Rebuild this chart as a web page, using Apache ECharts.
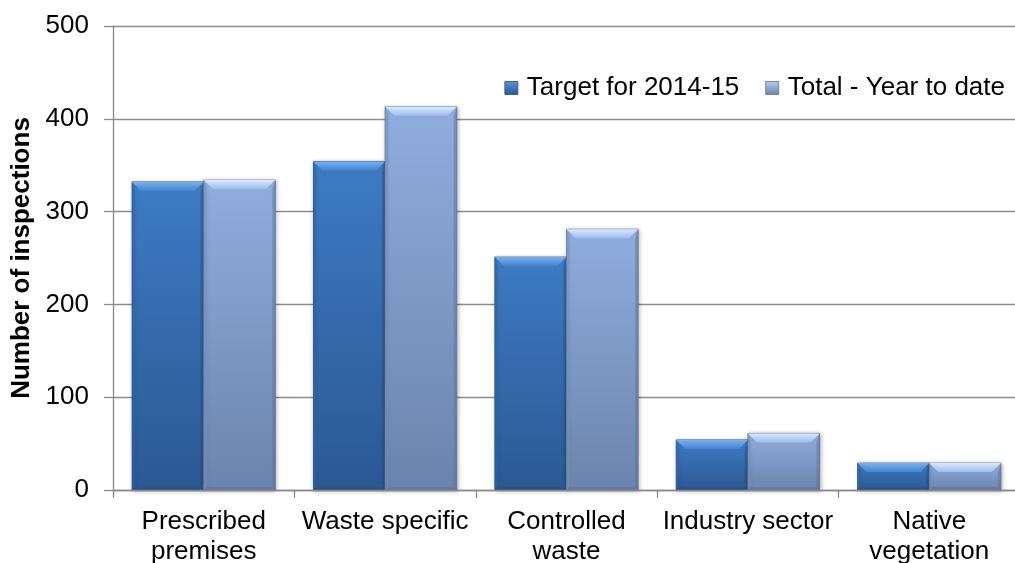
<!DOCTYPE html>
<html>
<head>
<meta charset="utf-8">
<title>Inspections by category</title>
<script src="https://cdn.jsdelivr.net/npm/echarts@6/dist/echarts.min.js"></script>
<style>
  html, body { margin: 0; padding: 0; background: #ffffff; }
  #chart { width: 1015px; height: 563px; }
</style>
</head>
<body>
<div id="chart"></div>
<script>
// Inspection categories and counts
const categories = ['Prescribed\npremises', 'Waste specific', 'Controlled\nwaste', 'Industry sector', 'Native\nvegetation'];
const seriesNames = ['Target for 2014-15', 'Total - Year to date'];
const targetValues = [332, 354, 251, 54, 29];
const totalValues = [334, 413, 281, 61, 29];
const yTicks = [0, 100, 200, 300, 400, 500];

const FONT = '"Liberation Sans", Arial, sans-serif';
const FS = 26;

// Bevelled bar palettes: body top/bottom, top bevel light/dark, side tone, edge
const palettes = [
  { top: '#3d7bc4', bottom: '#2b5893', bevelA: '#7ab0ec', bevelB: '#4285d0', side: '#2f62a3', edge: '#28507f' },
  { top: '#8fadde', bottom: '#6b84ad', bevelA: '#dbe9fd', bevelB: '#9dbcec', side: '#7891bb', edge: '#5f7394' }
];

function vGrad(a, b) {
  return new echarts.graphic.LinearGradient(0, 0, 0, 1, [
    { offset: 0, color: a }, { offset: 1, color: b }
  ]);
}

function makeRenderer(seriesIndex) {
  const pal = palettes[seriesIndex];
  return function (params, api) {
    const idx = api.value(0);
    const val = api.value(1);
    const topPt = api.coord([idx, val]);
    const basePt = api.coord([idx, 0]);
    const band = api.size([1, 0])[0];
    const barW = band * 0.395;
    const x0 = topPt[0] - barW + seriesIndex * barW;
    const x1 = x0 + barW;
    const yT = topPt[1];
    const yB = basePt[1];
    const h = yB - yT;
    const b = Math.min(9, h / 2);
    const s = 3;
    return {
      type: 'group',
      children: [
        {
          type: 'rect',
          shape: { x: x0, y: yT, width: barW, height: h },
          style: {
            fill: vGrad(pal.top, pal.bottom),
            stroke: pal.edge, lineWidth: 0.8,
            shadowBlur: 4, shadowColor: 'rgba(0,0,0,0.28)', shadowOffsetX: 1, shadowOffsetY: 1
          }
        },
        {
          // left side bevel
          type: 'polygon',
          shape: { points: [[x0, yT], [x0 + s, yT + b], [x0 + s, yB - s], [x0, yB]] },
          style: { fill: pal.side, opacity: 0.55 }
        },
        {
          // right side bevel
          type: 'polygon',
          shape: { points: [[x1, yT], [x1 - s, yT + b], [x1 - s, yB - s], [x1, yB]] },
          style: { fill: pal.edge, opacity: 0.45 }
        },
        {
          // bottom bevel
          type: 'polygon',
          shape: { points: [[x0, yB], [x0 + s, yB - s], [x1 - s, yB - s], [x1, yB]] },
          style: { fill: pal.edge, opacity: 0.4 }
        },
        {
          // top bevel
          type: 'polygon',
          shape: { points: [[x0, yT], [x1, yT], [x1 - b, yT + b], [x0 + b, yT + b]] },
          style: { fill: vGrad(pal.bevelA, pal.bevelB) }
        }
      ]
    };
  };
}

const chart = echarts.init(document.getElementById('chart'), null, { renderer: 'canvas' });

chart.setOption({
  animation: false,
  backgroundColor: '#ffffff',
  grid: { left: 113, top: 26, width: 907, height: 464, containLabel: false, outerBoundsMode: 'none' },
  legend: {
    right: 5,
    top: 70,
    icon: 'rect',
    itemWidth: 13,
    itemHeight: 13,
    itemGap: 26,
    textStyle: { fontFamily: FONT, fontSize: FS, color: '#000000', padding: [0, 0, 0, 4] },
    data: [
      { name: seriesNames[0], itemStyle: { color: vGrad('#5a95d8', '#2b5893'), borderColor: '#28507f', borderWidth: 0.8 } },
      { name: seriesNames[1], itemStyle: { color: vGrad('#b6cdf2', '#6b84ad'), borderColor: '#5f7394', borderWidth: 0.8 } }
    ]
  },
  xAxis: {
    type: 'category',
    data: categories,
    boundaryGap: true,
    axisLine: { show: true, lineStyle: { color: '#8a8a8a', width: 1.3 } },
    axisTick: { show: true, alignWithLabel: false, interval: 0, length: 8, lineStyle: { color: '#8a8a8a', width: 1.3 } },
    axisLabel: {
      interval: 0,
      margin: 17,
      fontFamily: FONT,
      fontSize: FS,
      lineHeight: 30,
      color: '#000000'
    },
    z: 5
  },
  yAxis: {
    type: 'value',
    min: yTicks[0],
    max: yTicks[yTicks.length - 1],
    interval: 100,
    name: 'Number of inspections',
    nameLocation: 'middle',
    nameRotate: 90,
    nameGap: 74,
    nameTextStyle: { fontFamily: FONT, fontSize: FS, fontWeight: 'bold', color: '#000000' },
    axisLine: { show: true, lineStyle: { color: '#8a8a8a', width: 1.3 } },
    axisTick: { show: true, length: 9, lineStyle: { color: '#8a8a8a', width: 1.3 } },
    axisLabel: { margin: 24, fontFamily: FONT, fontSize: FS, color: '#000000' },
    splitLine: { show: true, lineStyle: { color: '#8c8c8c', width: 1.3 } }
  },
  series: [
    {
      name: seriesNames[0],
      type: 'custom',
      renderItem: makeRenderer(0),
      encode: { x: 0, y: 1 },
      itemStyle: { color: '#3a72b8' },
      data: targetValues.map((v, i) => [i, v]),
      z: 3
    },
    {
      name: seriesNames[1],
      type: 'custom',
      renderItem: makeRenderer(1),
      encode: { x: 0, y: 1 },
      itemStyle: { color: '#8aa6d6' },
      data: totalValues.map((v, i) => [i, v]),
      z: 3
    }
  ]
});
</script>
</body>
</html>
